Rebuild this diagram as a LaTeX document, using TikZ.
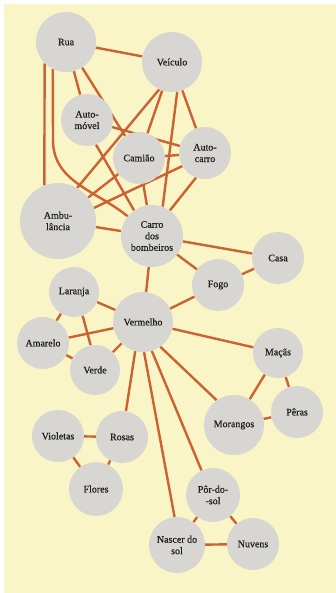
\documentclass[tikz,border=0pt]{standalone}
\usepackage{fontspec}
\setmainfont{Liberation Serif}[FakeBold=0.6]
\pgfdeclarelayer{bg}
\pgfdeclarelayer{edges}
\pgfsetlayers{bg,edges,main}
\definecolor{paper}{HTML}{FAF5C6}
\definecolor{disc}{HTML}{D7D6D3}
\definecolor{link}{HTML}{CC6232}
\definecolor{ink}{HTML}{1E1E1E}
\tikzset{
  concept/.style={circle, fill=disc, inner sep=0pt, align=center, text=ink,
    font=\fontsize{10}{11.5}\selectfont, minimum size=#1},
  concept/.default=52pt,
  link/.style={draw=link, line width=2.4pt}
}
\begin{document}
\begin{tikzpicture}[x=1pt,y=-1pt]
\begin{pgfonlayer}{bg}
  \fill[white] (0,0) rectangle (336,593);
  \fill[paper] (4,4) rectangle (336,593);
\end{pgfonlayer}
\useasboundingbox (0,0) rectangle (336,593);
% nodes
\node[concept=60pt] (rua) at (66,42) {Rua};
\node[concept=60pt] (veic) at (172,62) {Veículo};
\node[concept=52pt] (automovel) at (87,120) {Auto-\\móvel};
\node[concept=52pt] (camiao) at (139,158) {Camião};
\node[concept=52pt] (autocarro) at (205,153) {Auto-\\carro};
\node[concept=76pt] (amb) at (58,221) {Ambu-\\lância};
\node[concept=62pt] (carro) at (152,236) {Carro\\dos\\bombeiros};
\node[concept=52pt] (casa) at (278,258) {Casa};
\node[concept=52pt] (fogo) at (218,285) {Fogo};
\node[concept=50pt] (laranja) at (74,292) {Laranja};
\node[concept=60pt] (verm) at (143,322) {Vermelho};
\node[concept=52pt] (amarelo) at (43,343) {Amarelo};
\node[concept=50pt] (verde) at (95,370) {Verde};
\node[concept=50pt] (macas) at (278,353) {Maçãs};
\node[concept=60pt] (morangos) at (234,425) {Morangos};
\node[concept=52pt] (peras) at (297,412) {Pêras};
\node[concept=52pt] (violetas) at (58,436) {Violetas};
\node[concept=52pt] (rosas) at (122,437) {Rosas};
\node[concept=54pt] (flores) at (96,489) {Flores};
\node[concept=54pt] (por) at (213,495) {Pôr-do-\\-sol};
\node[concept=56pt] (nascer) at (177,545) {Nascer do\\sol};
\node[concept=52pt] (nuvens) at (253,544) {Nuvens};
% connectors
\begin{pgfonlayer}{edges}
\draw[link] (rua) -- (veic);
\draw[link] (rua) -- (automovel);
\draw[link] (rua) -- (camiao);
\draw[link] (rua.225) -- (amb.111);
\draw[link] (rua.244) -- (53,140) to[out=-90,in=141] (carro.141);
\draw[link] (veic) -- (camiao);
\draw[link] (veic) -- (autocarro);
\draw[link] (veic.245) -- (amb.60);
\draw[link] (veic.280) -- (carro.70);
\draw[link] (automovel) -- (autocarro);
\draw[link] (automovel.290) -- (carro.125);
\draw[link] (camiao) -- (autocarro);
\draw[link] (camiao) -- (amb);
\draw[link] (camiao) -- (carro);
\draw[link] (autocarro.210) -- (amb.20);
\draw[link] (autocarro.250) -- (carro.55);
\draw[link] (amb) -- (carro);
\draw[link] (carro) -- (casa);
\draw[link] (carro) -- (fogo);
\draw[link] (carro) -- (verm);
\draw[link] (fogo) -- (casa);
\draw[link] (fogo) -- (verm);
\draw[link] (laranja) -- (verm);
\draw[link] (laranja) -- (amarelo);
\draw[link] (laranja.290) -- (verde.100);
\draw[link] (amarelo) -- (verm);
\draw[link] (amarelo) -- (verde);
\draw[link] (verde) -- (verm);
\draw[link] (verm) -- (macas);
\draw[link] (verm.255) -- (rosas);
\draw[link] (verm.272) -- (nascer.95);
\draw[link] (verm.287) -- (por.115);
\draw[link] (verm.305) -- (morangos.125);
\draw[link] (macas) -- (morangos);
\draw[link] (macas) -- (peras);
\draw[link] (morangos) -- (peras);
\draw[link] (violetas) -- (rosas);
\draw[link] (violetas) -- (flores);
\draw[link] (rosas) -- (flores);
\draw[link] (por) -- (nascer);
\draw[link] (por) -- (nuvens);
\draw[link] (nascer) -- (nuvens);
\end{pgfonlayer}
\end{tikzpicture}
\end{document}
